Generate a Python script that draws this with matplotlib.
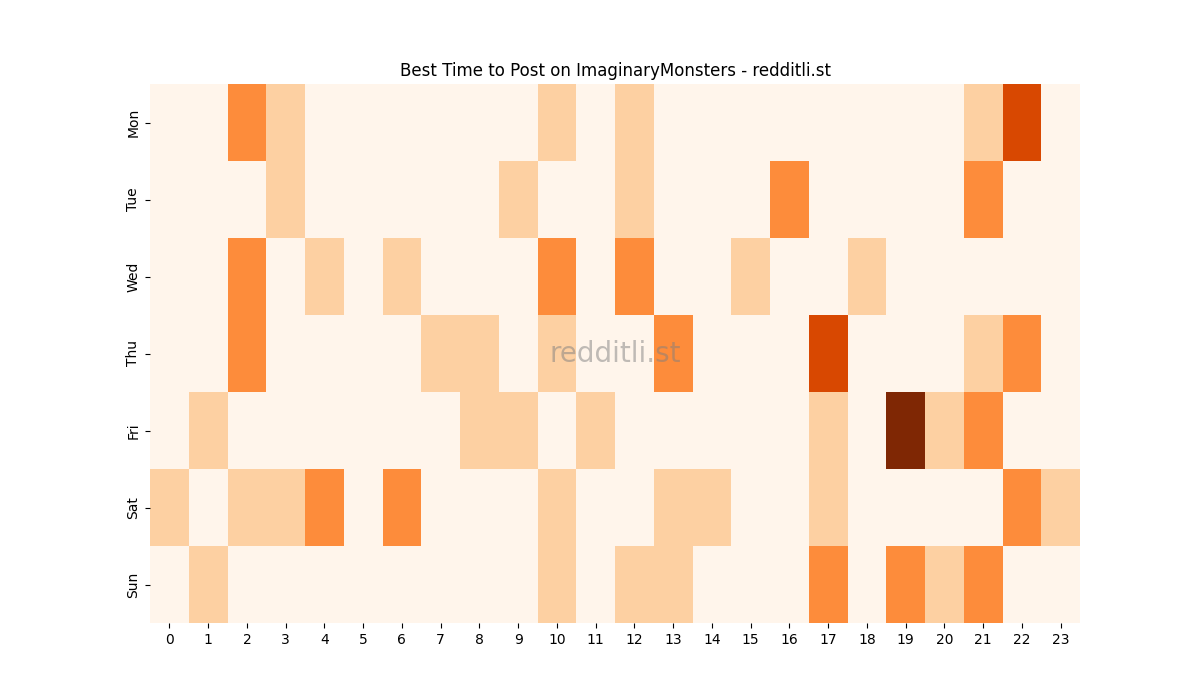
import matplotlib
matplotlib.use("Agg")
import matplotlib.pyplot as plt
import seaborn as sns
import numpy as np

days = ["Mon", "Tue", "Wed", "Thu", "Fri", "Sat", "Sun"]
hours = list(range(24))
mon = {2: 2, 3: 1, 10: 1, 12: 1, 21: 1, 22: 3}
tue = {3: 1, 9: 1, 12: 1, 16: 2, 21: 2}
wed = {2: 2, 4: 1, 6: 1, 10: 2, 12: 2, 15: 1, 18: 1}
thu = {2: 2, 7: 1, 8: 1, 10: 1, 13: 2, 17: 3, 21: 1, 22: 2}
fri = {1: 1, 8: 1, 9: 1, 11: 1, 17: 1, 19: 4, 20: 1, 21: 2}
sat = {0: 1, 2: 1, 3: 1, 4: 2, 6: 2, 10: 1, 13: 1, 14: 1, 17: 1, 22: 2, 23: 1}
sun = {1: 1, 10: 1, 12: 1, 13: 1, 17: 2, 19: 2, 20: 1, 21: 2}
rows = [mon, tue, wed, thu, fri, sat, sun]
data = np.array([[r.get(h, 0) for h in hours] for r in rows], dtype=float)

fig = plt.figure(figsize=(12, 7), dpi=100)
ax = fig.add_subplot(111)
sns.heatmap(data, cmap="Oranges", vmin=0, vmax=4, cbar=False, ax=ax,
            xticklabels=hours, yticklabels=days)
ax.set_title("Best Time to Post on ImaginaryMonsters - redditli.st")
ax.text(0.5, 0.5, "redditli.st", transform=ax.transAxes, ha="center", va="center",
        fontsize=20, color="gray", alpha=0.5)
plt.setp(ax.get_xticklabels(), rotation=0)
plt.setp(ax.get_yticklabels(), rotation=90, va="center")
fig.savefig("out.png")
